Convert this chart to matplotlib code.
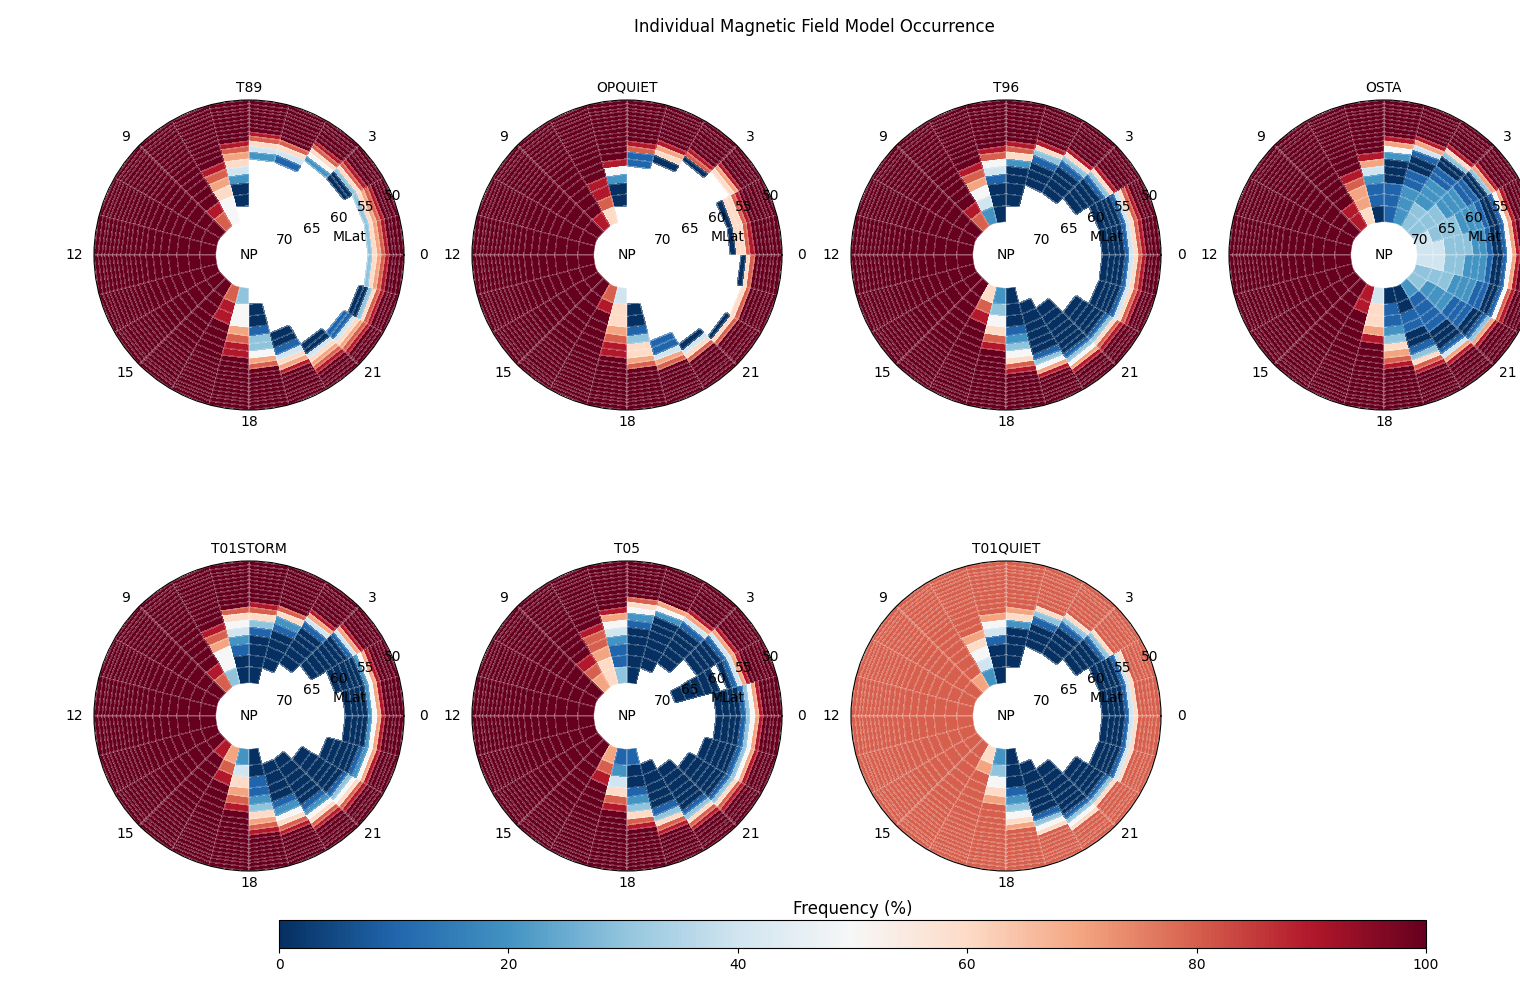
import numpy as np
import matplotlib
matplotlib.use("Agg")
import matplotlib.pyplot as plt
from matplotlib.colors import Normalize
from matplotlib.cm import ScalarMappable

# ---------------- data ----------------
models = ["T89", "OPQUIET", "T96", "OSTA", "T01STORM", "T05", "T01QUIET"]
mlt_edges = list(range(0, 25))                     # MLT hour bin edges
mlat_edges = [50.0, 50.7, 51.3, 51.9, 52.6, 53.3, 54.0, 54.7, 55.5, 56.2,
              57.0, 57.9, 58.9, 60.1, 61.3, 62.8, 64.3, 66.2, 68.2, 71.0]
theta_tick_hours = [0, 3, 9, 12, 15, 18, 21]
theta_tick_labels = ["0", "3", "9", "12", "15", "18", "21"]
mlat_ticks = [70, 65, 60, 55, 50]

# Frequency (%) per MLT sector (list entries, MLT 0..23) and MLat ring
# (characters, outer 50 deg -> inner); '.' = no data, '0'..'9' = 0..90 %, 'A' = 100 %
DAY = "AAAAAAAAAAAAAAAAAAA"
T89 = ["AAAA98763", "AAAA98763", "AAAAA986300", "AAAAAA98652", "AAAAAAAAA8641",
       "AAAAAAAA98642", "AAAAAAAAAA98764200.", "AAAAAAAAAAAAA987655",
       "AAAAAAAAAAAAAAAAA98",
       DAY, DAY, DAY, DAY, DAY, DAY, DAY,
       "AAAAAAAAAAAAAAAA998", "AAAAAAAAAAAA9987553", "AAAAAAAAAA87533100.",
       "AAAAAAAA9764100", "AAAAA9876400", "AAAA9876411", "AAAA986300", "AAAA98763"]
OPQUIET = ["AAAAAAA98660", "AAAAAAA98660", "AAAAAA976", "AAAAAAAA980", "AAAAAAAAA9760",
           "AAAAAAAAAA9811", "AAAAAAAAAAAAA95200.", "AAAAAAAAAAAAAAA9986",
           "AAAAAAAAAAAAAAAAAA9",
           DAY, DAY, DAY, DAY, DAY, DAY, DAY,
           "AAAAAAAAAAAAAAAAA98", "AAAAAAAAAAAA9987664", "AAAAAAAAAA87663100.",
           "AAAAAAAAA87411", "AAAAAAAA8640", "AAAAAAA860", "AAAAAAA86", "AAAAAAA860"]
T96 = ["AAAA986410000", "AAAA986410000", "AAAAAAA96310000", "AAAAAAAA96310000",
       "AAAAAAAAA9631000", "AAAAAAAAAA98620000.", "AAAAAAAAAAA98541000",
       "AAAAAAAAAAAAA987542", "AAAAAAAAAAAAAAAAA98",
       DAY, DAY, DAY, DAY, DAY, DAY, DAY,
       "AAAAAAAAAAAAAAAA986", "AAAAAAAAAAAAA986532", "AAAAAAAAA9865321000",
       "AAAAAAA97531000000.", "AAAAA975310000000", "AAAAA9863100000",
       "AAAA986410000", "AAAA986410000"]
OSTA = ["AAAAA97510012233344", "AAAAA97510012223334", "AAAAAA9730011222333",
        "AAAAAAA963001122233", "AAAAAAAA97410011222", "AAAAAAAAA9752000111",
        "AAAAAAAAAAAA9742110", "AAAAAAAAAAAAAA98776", "AAAAAAAAAAAAAAAAA99",
        DAY, DAY, DAY, DAY, DAY, DAY, DAY,
        "AAAAAAAAAAAAAAAAA99", "AAAAAAAAAAAAAA97664", "AAAAAAAAAA987632110",
        "AAAAAAAA98631001100", "AAAAAAA974100011112", "AAAAAA9731001112223",
        "AAAAA98510011222333", "AAAAA97510012223344"]
T01STORM = ["AAAAA97520000", "AAAAA975200000", "AAAAAA9741000000",
            "AAAAAAAA974100000..", "AAAAAAAAAA86210000.", "AAAAAAAAAA986310000",
            "AAAAAAAAAAA86542100", "AAAAAAAAAAAAA987553", "AAAAAAAAAAAAAAAAA98",
            DAY, DAY, DAY, DAY, DAY, DAY, "AAAAAAAAAAAAAAAAAA9",
            "AAAAAAAAAAAAAAAA987", "AAAAAAAAAAAAA987642", "AAAAAAAAA9876321100",
            "AAAAAAAA9865210000.", "AAAAAA986521000000.", "AAAAA986531000000..",
            "AAAAA9752100000", "AAAAA97520000"]
T05 = ["AAAAA975310000", "AAAAAAA97410.00000.", "AAAAAAA97410000",
       "AAAAAAAA974100000..", "AAAAAAAAA752000000.", "AAAAAAAAA8652100000",
       "AAAAAAAAAAA97542113", "AAAAAAAAAAAAA988766", "AAAAAAAAAAAAAAAA987",
       DAY, DAY, DAY, DAY, DAY, DAY, DAY,
       "AAAAAAAAAAAAAAAA987", "AAAAAAAAAAAAA986421", "AAAAAAAAAA986321001",
       "AAAAAAAA9863100000.", "AAAAAA98631000000..", "AAAAA98631000000...",
       "AAAAA9753100000", "AAAAA975310000"]
QDAY = "8888888888888888888"
T01QUIET = ["8888886410000", "8888886410000", "888888886310000", "8888888886310000",
            "8888888888631000", "888888888887620000.", "8888888888887541000",
            "8888888888888876542", "8888888888888888887",
            QDAY, QDAY, QDAY, QDAY, QDAY, QDAY, QDAY,
            "8888888888888888876", "8888888888888876532", "8888888888765321000",
            "888888886531000000.", "88888865310000000", "888888863100000",
            "8888886410000", "8888886410000"]

grids = [T89, OPQUIET, T96, OSTA, T01STORM, T05, T01QUIET]

CODE = {".": np.nan, "A": 100.0}
CODE.update({str(d): 10.0 * d for d in range(10)})
n_ring = len(mlat_edges) - 1


def decode(rows):
    z = np.full((n_ring, len(rows)), np.nan)
    for j, s in enumerate(rows):
        for i, ch in enumerate(s[:n_ring]):
            z[i, j] = CODE[ch]
    return z


# ---------------- figure ----------------
W, H = 1520, 985
fig = plt.figure(figsize=(W / 100, H / 100), dpi=100)
fig.suptitle("Individual Magnetic Field Model Occurrence", fontsize=12,
             x=814 / W, y=0.982)

centers = [(249, 255), (627, 255), (1006, 255), (1384, 255),
           (249, 716), (627, 716), (1006, 716)]
R = 155
cmap = plt.get_cmap("RdBu_r")
norm = Normalize(vmin=0, vmax=100)

theta_e = np.deg2rad(np.array(mlt_edges) * 15.0)
colat_e = 90.0 - np.array(mlat_edges)
TT, RR = np.meshgrid(theta_e, colat_e)
r_origin = 90 - 76.7

for name, rows, (cx, cy) in zip(models, grids, centers):
    ax = fig.add_axes([(cx - R) / W, (H - cy - R) / H, 2 * R / W, 2 * R / H],
                      projection="polar")
    Z = np.ma.masked_invalid(decode(rows))
    ax.pcolormesh(TT, RR, Z, cmap=cmap, norm=norm, shading="flat",
                  edgecolors=(1, 1, 1, 0.2), linewidth=0.35)
    ax.set_rorigin(r_origin)
    ax.set_ylim(90 - 71.0, 40)
    ax.grid(False)
    ax.set_xticks(np.deg2rad(np.array(theta_tick_hours) * 15.0))
    ax.set_xticklabels([])
    ax.set_yticks([90 - v for v in mlat_ticks])
    ax.set_yticklabels([])
    ax.tick_params(length=0)
    ax.spines["inner"].set_color("none")
    ax.spines["polar"].set_linewidth(0.8)
    ax.set_title(name, fontsize=10)
    # MLT labels (centred, slightly elliptical placement as in the reference)
    for hr, lab in zip(theta_tick_hours, theta_tick_labels):
        a = np.deg2rad(hr * 15.0)
        ax.text(0.5 + 175 / 310 * np.cos(a), 0.5 + 167 / 310 * np.sin(a), lab,
                transform=ax.transAxes, ha="center", va="center", fontsize=10,
                clip_on=False)
    # MLat labels centred on their circles at 22.5 deg
    for v in mlat_ticks:
        ax.text(np.deg2rad(22.5), 90 - v, str(v), ha="center", va="center",
                fontsize=10, clip_on=False)
    ax.text(0.5, 0.5, "NP", transform=ax.transAxes, ha="center", va="center", fontsize=10)
    ax.text(0.826, 0.558, "MLat", transform=ax.transAxes, ha="center", va="center",
            fontsize=10)

cax = fig.add_axes([279 / W, (H - 948) / H, (1426 - 279) / W, 28 / H])
cb = fig.colorbar(ScalarMappable(norm=norm, cmap=cmap), cax=cax, orientation="horizontal")
cb.set_ticks([0, 20, 40, 60, 80, 100])
cb.set_label("Frequency (%)", fontsize=12)
cax.xaxis.set_label_position("top")
cax.tick_params(labelsize=10)

fig.savefig("out.png", dpi=100)
